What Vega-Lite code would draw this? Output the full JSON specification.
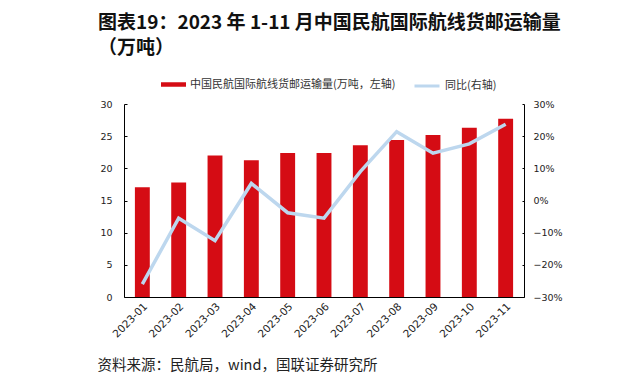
{
  "$schema": "https://vega.github.io/schema/vega-lite/v6.json",
  "width": 400,
  "height": 193,
  "autosize": {"type": "none"},
  "padding": {"left": 124, "top": 104, "right": 101, "bottom": 85},
  "background": "white",
  "title": {
    "text": ["图表19：2023 年 1-11 月中国民航国际航线货邮运输量", "（万吨）"],
    "anchor": "start",
    "frame": "group",
    "font": "Noto Sans CJK SC",
    "fontSize": 19,
    "fontWeight": "bold",
    "color": "#111111",
    "lineHeight": 25,
    "baseline": "middle",
    "dx": -26,
    "offset": 5
  },
  "config": {
    "view": {"stroke": null},
    "axis": {"grid": false, "domainColor": "#000000", "tickColor": "#000000", "labelColor": "#222222", "labelFont": "DejaVu Sans", "labelFontSize": 9.5}
  },
  "data": {
    "values": [
      {"month": "2023-01", "vol": 17.05, "yoy": -0.26},
      {"month": "2023-02", "vol": 17.8, "yoy": -0.055},
      {"month": "2023-03", "vol": 22.0, "yoy": -0.125},
      {"month": "2023-04", "vol": 21.25, "yoy": 0.053},
      {"month": "2023-05", "vol": 22.4, "yoy": -0.038},
      {"month": "2023-06", "vol": 22.4, "yoy": -0.055},
      {"month": "2023-07", "vol": 23.6, "yoy": 0.09},
      {"month": "2023-08", "vol": 24.4, "yoy": 0.214},
      {"month": "2023-09", "vol": 25.2, "yoy": 0.147},
      {"month": "2023-10", "vol": 26.3, "yoy": 0.176},
      {"month": "2023-11", "vol": 27.7, "yoy": 0.237}
    ]
  },
  "encoding": {
    "x": {
      "field": "month", "type": "ordinal", "sort": null,
      "scale": {"paddingInner": 0.59, "paddingOuter": 0.3},
      "axis": {
        "title": "资料来源：民航局，wind，国联证券研究所",
        "titleFont": "Noto Sans CJK SC", "titleFontSize": 14.5, "titleFontWeight": "normal", "titleColor": "#222222",
        "titleAnchor": "start", "titleAlign": "left", "titleBaseline": "middle",
        "titleX": -27, "titleY": 68,
        "labelAngle": -45, "ticks": false, "labelPadding": 4, "labelFontSize": 10.5
      }
    }
  },
  "layer": [
    {
      "mark": {"type": "bar", "color": "#d50c14"},
      "encoding": {
        "y": {
          "field": "vol", "type": "quantitative",
          "scale": {"domain": [0, 30], "nice": false},
          "axis": {"title": null, "values": [0, 5, 10, 15, 20, 25, 30], "tickSize": -3, "labelPadding": 15}
        },
        "color": {
          "datum": "中国民航国际航线货邮运输量(万吨，左轴)",
          "type": "nominal",
          "scale": {"range": ["#d50c14"]},
          "legend": {
            "title": null, "orient": "none", "legendX": 37, "legendY": -32,
            "symbolType": "M-1,-0.18H1V0.18H-1Z", "symbolSize": 625, "symbolStrokeWidth": 0,
            "labelFont": "Noto Sans CJK SC", "labelFontSize": 11, "labelColor": "#333333", "labelLimit": 400, "labelOffset": 4
          }
        }
      }
    },
    {
      "mark": {"type": "line", "strokeWidth": 3.5, "color": "#bdd7ee"},
      "encoding": {
        "y": {
          "field": "yoy", "type": "quantitative",
          "scale": {"domain": [-0.3, 0.3], "nice": false},
          "axis": {"title": null, "orient": "right", "format": ".0%", "values": [-0.3, -0.2, -0.1, 0, 0.1, 0.2, 0.3], "tickSize": -2, "labelPadding": 11}
        },
        "color": {
          "datum": "同比(右轴)",
          "type": "nominal",
          "scale": {"range": ["#bdd7ee"]},
          "legend": {
            "title": null, "orient": "none", "legendX": 289, "legendY": -32,
            "symbolType": "stroke", "symbolSize": 625, "symbolStrokeWidth": 3,
            "labelFont": "Noto Sans CJK SC", "labelFontSize": 11, "labelColor": "#333333", "labelLimit": 400, "labelOffset": 4
          }
        }
      }
    }
  ],
  "resolve": {"scale": {"y": "independent", "color": "independent"}}
}
